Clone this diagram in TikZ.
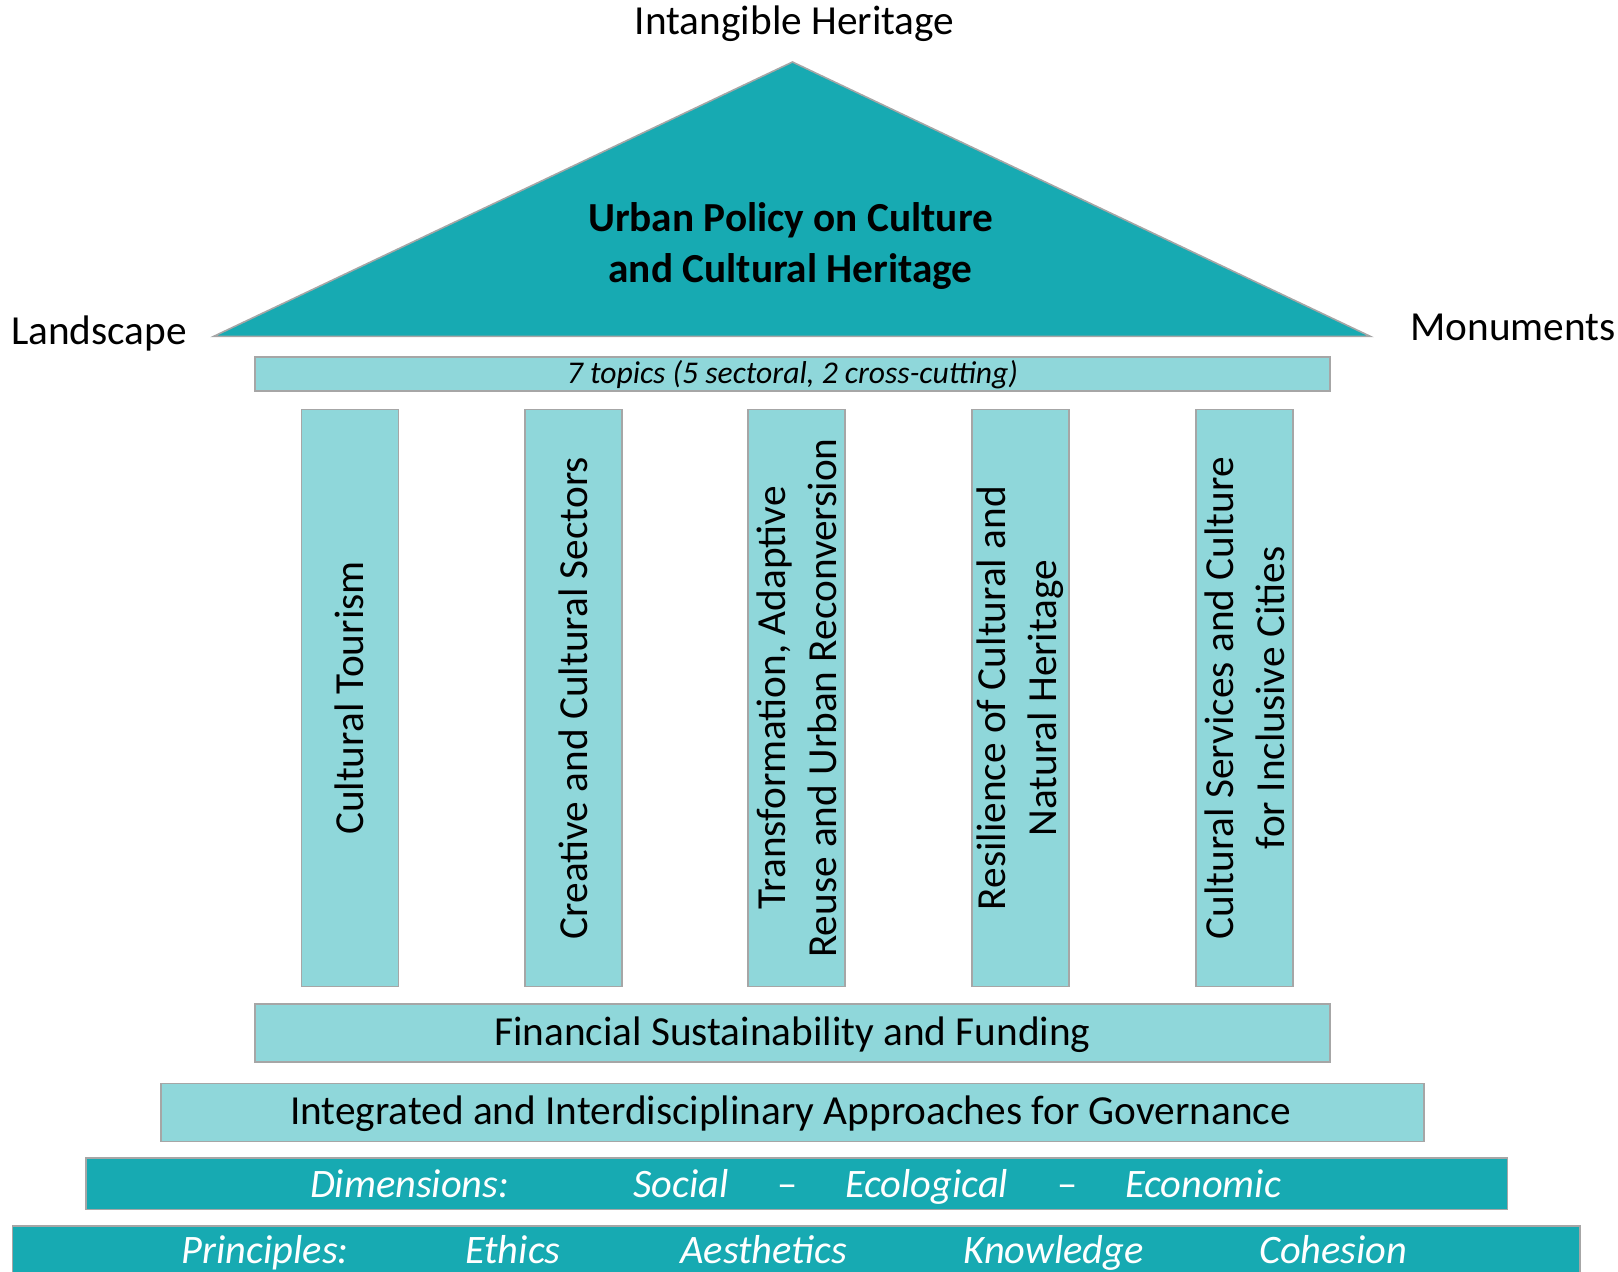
\documentclass[tikz,border=0pt]{standalone}
\usepackage{fontspec}
\setmainfont{Carlito}
\definecolor{tealdark}{HTML}{17AAB2}
\definecolor{teallight}{HTML}{8FD7DA}
\definecolor{edgegray}{HTML}{A6A6A6}

\begin{document}
\begin{tikzpicture}[
    x = 0.02cm, y = -0.02cm,
    every node/.style = {inner sep = 0pt},
    plate/.style = {draw = edgegray, line width = 0.9pt, fill = tealdark},
    bar/.style = {draw = edgegray, line width = 0.9pt, fill = teallight},
    pillar/.style = {bar, rotate = 90, align = center,
      minimum width = 11.54cm, minimum height = 1.94cm,
      font = \fontsize{23.5}{29}\selectfont},
    sidetext/.style = {font = \fontsize{23.5}{28.7}\selectfont, anchor = base},
    basetext/.style = {text = white, anchor = base,
      font = \fontsize{23}{28}\selectfont\itshape}
  ]
  \clip (0,0) rectangle (1618,1271);

  % roof
  \coordinate (apex) at (792.5,62);
  \coordinate (eaveL) at (213.6,336.4);
  \coordinate (eaveR) at (1370.4,336.4);
  \draw[plate] (apex) -- (eaveL) -- (eaveR) -- cycle;
  \node[font = \fontsize{23.5}{28.7}\selectfont\bfseries, align = center]
    (policy) at (790.5,246) {Urban Policy on Culture\\and Cultural Heritage};

  \node[sidetext] (intangible) at (794.6,34) {Intangible Heritage};
  \node[sidetext] (landscape) at (99,344.7) {Landscape};
  \node[sidetext] (monuments) at (1513,340.5) {Monuments};

  % architrave
  \node[bar, minimum width = 21.5cm, minimum height = 0.68cm]
    (topics) at (792.5,374) {};
  \node[font = \fontsize{18}{22}\selectfont\itshape, anchor = base]
    (topicstext) at (792.5,383.9) {7 topics (5 sectoral, 2 cross-cutting)};

  % pillars
  \node[pillar] (tourism) at (349.8,698.1) {Cultural Tourism};
  \node[pillar] (creative) at (573.7,698.1) {Creative and Cultural Sectors};
  \node[pillar] (reuse) at (796.6,698.1)
    {Transformation, Adaptive\\Reuse and Urban Reconversion};
  \node[pillar] (resilience) at (1020.6,698.1)
    {Resilience of Cultural and\\Natural Heritage};
  \node[pillar] (services) at (1244.5,698.1)
    {Cultural Services and Culture\\for Inclusive Cities};

  % steps
  \node[bar, minimum width = 21.5cm, minimum height = 1.156cm]
    (funding) at (792.5,1032.9) {};
  \node[sidetext] (fundingtext) at (792.5,1045.3)
    {Financial Sustainability and Funding};
  \node[bar, minimum width = 25.26cm, minimum height = 1.156cm]
    (governance) at (792.5,1112.4) {};
  \node[sidetext] (governancetext) at (790.5,1124.8)
    {Integrated and Interdisciplinary Approaches for Governance};

  \node[plate, minimum width = 28.44cm, minimum height = 1.032cm]
    (dimensions) at (796.6,1183.6) {};
  \node[basetext] (dimlabel) at (409.7,1197) {Dimensions:};
  \node[basetext] (social) at (681,1197) {Social};
  \node[basetext] (dashA) at (787.3,1197) {\upshape --};
  \node[basetext] (ecological) at (926.6,1197) {Ecological};
  \node[basetext] (dashB) at (1068,1197) {\upshape --};
  \node[basetext] (economic) at (1203,1197) {Economic};

  \node[plate, minimum width = 31.35cm, minimum height = 1.48cm]
    (principles) at (796.2,1263) {};
  \node[basetext] (prlabel) at (265.2,1263) {Principles:};
  \node[basetext] (ethics) at (512.9,1263) {Ethics};
  \node[basetext] (aesthetics) at (763.6,1263) {Aesthetics};
  \node[basetext] (knowledge) at (1053.6,1263) {Knowledge};
  \node[basetext] (cohesion) at (1333.2,1263) {Cohesion};
\end{tikzpicture}
\end{document}
